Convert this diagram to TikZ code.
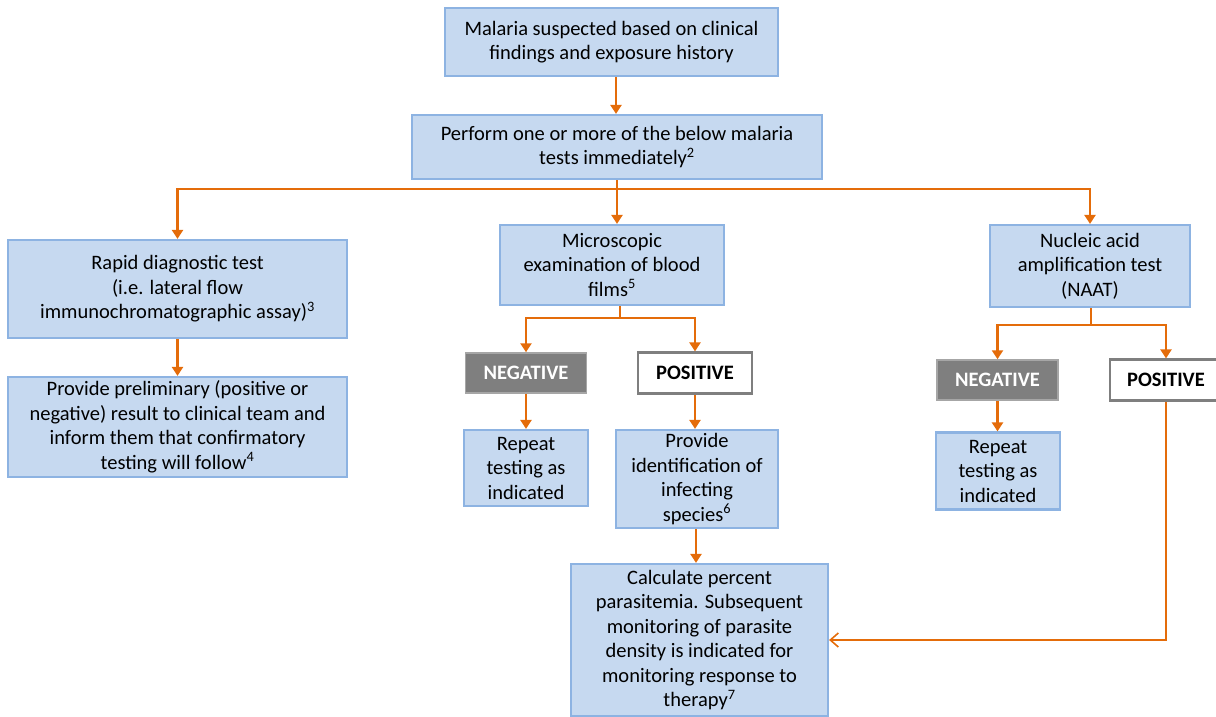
\documentclass[tikz,border=0pt]{standalone}
\usepackage{fontspec}
\setmainfont{Carlito}
\usetikzlibrary{arrows.meta,calc}
\definecolor{boxfill}{RGB}{198,217,240}
\definecolor{boxline}{RGB}{141,179,226}
\definecolor{arrorange}{RGB}{228,108,10}
\definecolor{neggrey}{RGB}{127,127,127}
\definecolor{negline}{RGB}{166,166,166}
\begin{document}
\begin{tikzpicture}[x=1pt,y=-1pt,
  box/.style={draw=boxline,fill=boxfill,line width=2.2pt,align=center,inner sep=1pt,
    font=\fontsize{20.5}{24.5}\selectfont,execute at begin node={\rule{0pt}{21pt}}},
  negbox/.style={draw=negline,fill=neggrey,line width=1.5pt,text=white,inner sep=1pt,
    font=\fontsize{20.5}{22}\selectfont\bfseries,minimum width=121pt,minimum height=40pt},
  posbox/.style={draw=neggrey,fill=white,line width=2.2pt,text=black,inner sep=1pt,
    font=\fontsize{20.5}{22}\selectfont\bfseries,minimum height=41pt},
  arr/.style={draw=arrorange,line width=2.4pt,-{Triangle[width=11pt,length=9pt]}},
  ln/.style={draw=arrorange,line width=2.4pt},
  openarr/.style={draw=arrorange,line width=1.6pt,-{Straight Barb[width=14pt,length=8pt]}}
]
\useasboundingbox (0,0) rectangle (1216,717);
\node[box,minimum width=333pt,minimum height=68pt] (top) at (611.5,42)
  {Malaria suspected based on clinical\\findings and exposure history};
\node[box,minimum width=410pt,minimum height=64pt] (perform) at (617,147)
  {Perform one or more of the below malaria\\tests immediately\textsuperscript{2}};
\node[box,minimum width=339pt,minimum height=98pt] (rdt) at (177.5,289)
  {Rapid diagnostic test\\(i.e. lateral flow\\immunochromatographic assay)\textsuperscript{3}};
\node[box,minimum width=224pt,minimum height=80pt] (micro) at (612,265)
  {Microscopic\\examination of blood\\films\textsuperscript{5}};
\node[box,minimum width=200pt,minimum height=82pt] (naat) at (1090,266)
  {Nucleic acid\\amplification test\\(NAAT)};
\node[box,minimum width=339pt,minimum height=100pt] (prelim) at (177.5,427)
  {Provide preliminary (positive or\\negative) result to clinical team and\\inform them that confirmatory\\testing will follow\textsuperscript{4}};
\node[negbox] (neg1) at (526,373) {NEGATIVE};
\node[posbox,minimum width=114pt] (pos1) at (695,373) {POSITIVE};
\node[box,minimum width=124pt,minimum height=76pt] (rep1) at (526,468)
  {Repeat\\testing as\\indicated};
\node[box,minimum width=162pt,minimum height=98pt] (ident) at (697,479)
  {Provide\\identification of\\infecting\\species\textsuperscript{6}};
\node[box,minimum width=257pt,minimum height=152pt] (calc) at (699.5,640)
  {Calculate percent\\parasitemia. Subsequent\\monitoring of parasite\\density is indicated for\\monitoring response to\\therapy\textsuperscript{7}};
\node[negbox] (neg2) at (997.5,380) {NEGATIVE};
\node[posbox,minimum width=112pt] (pos2) at (1166,380) {POSITIVE};
\node[box,minimum width=124pt,minimum height=77pt] (rep2) at (998,471)
  {Repeat\\testing as\\indicated};
% connectors
\draw[arr] (top.south -| 616,0) -- (616,0 |- perform.north);
\coordinate (hub) at (617,189);
\draw[ln] (hub |- perform.south) -- (hub);
\draw[arr] (hub) -| (rdt.north);
\draw[arr] (hub) -| (naat.north);
\draw[arr] (hub) -- (hub |- micro.north);
\draw[arr] (rdt.south) -- (prelim.north);
\coordinate (mh) at (620,318);
\draw[ln] (mh |- micro.south) -- (mh);
\draw[arr] (mh) -| (neg1.north);
\draw[arr] (mh) -| (pos1.north);
\draw[arr] (neg1.south) -- (rep1.north);
\draw[arr] (pos1.south) -- (pos1.south |- ident.north);
\draw[arr] (ident.south -| 696,0) -- (696,0 |- calc.north);
\coordinate (nh) at (1091,325);
\draw[ln] (nh |- naat.south) -- (nh);
\draw[arr] (nh) -| (neg2.north);
\draw[arr] (nh) -| (pos2.north);
\draw[arr] (neg2.south) -- (neg2.south |- rep2.north);
\draw[openarr] (pos2.south) |- (calc.east);
\end{tikzpicture}
\end{document}
